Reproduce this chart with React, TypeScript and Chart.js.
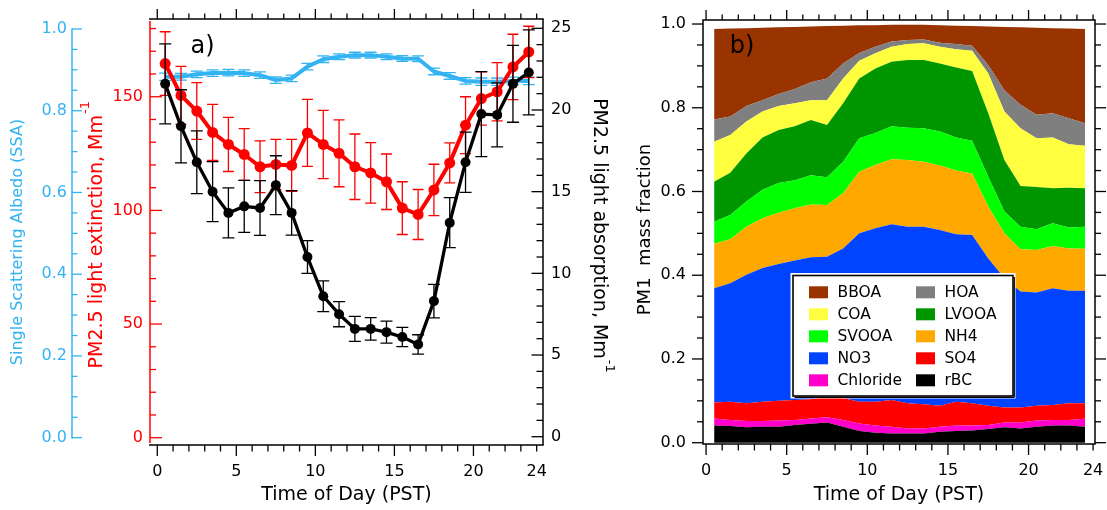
import React, { useEffect, useRef } from "react";
import { Chart, registerables } from "chart.js";

Chart.register(...registerables);

const FONT = "'DejaVu Sans', Verdana, sans-serif";
const SKY = "#33B3F2";
const RED = "#FF0000";

// ---------- shared categories / ticks ----------
const hours = [0.5, 1.5, 2.5, 3.5, 4.5, 5.5, 6.5, 7.5, 8.5, 9.5, 10.5, 11.5, 12.5, 13.5, 14.5, 15.5, 16.5, 17.5, 18.5, 19.5, 20.5, 21.5, 22.5, 23.5];
const timeTicks = [0, 5, 10, 15, 20, 24];
const ssaTicks = [0, 0.2, 0.4, 0.6, 0.8, 1.0];
const extTicks = [0, 50, 100, 150];
const absTicks = [0, 5, 10, 15, 20, 25];
const fracTicks = [0, 0.2, 0.4, 0.6, 0.8, 1.0];

// ---------- panel a) ----------
const extinction = [164.6, 150.6, 143.7, 134.3, 129.0, 124.6, 119.2, 120.2, 119.8, 134.1, 129.0, 125.1, 119.2, 116.5, 112.6, 101.0, 98.2, 109.0, 120.9, 137.5, 149.2, 152.2, 163.1, 169.7];
const extinctionErr = [14.0, 12.8, 12.5, 12.3, 11.9, 11.4, 11.4, 11.0, 11.4, 14.7, 15.0, 14.7, 14.4, 13.3, 12.2, 11.6, 11.0, 11.3, 8.8, 12.5, 11.7, 12.8, 14.4, 11.3];
const absorption = [21.6, 19.0, 16.8, 15.0, 13.7, 14.1, 14.0, 15.4, 13.7, 11.0, 8.6, 7.5, 6.6, 6.6, 6.4, 6.1, 5.65, 8.3, 13.1, 16.8, 19.75, 19.7, 21.6, 22.3];
const absorptionErr = [2.45, 2.24, 1.92, 1.84, 1.53, 1.59, 1.67, 1.8, 1.36, 1.0, 0.94, 0.77, 0.77, 0.69, 0.67, 0.59, 0.59, 1.02, 1.53, 1.84, 2.6, 1.96, 2.35, 2.6];
const ssa = [0.883, 0.883, 0.889, 0.892, 0.893, 0.892, 0.887, 0.875, 0.879, 0.908, 0.926, 0.932, 0.936, 0.936, 0.932, 0.928, 0.927, 0.896, 0.885, 0.873, 0.871, 0.871, 0.873, 0.873];
const ssaErr = [0.009, 0.008, 0.008, 0.008, 0.008, 0.008, 0.008, 0.008, 0.008, 0.008, 0.008, 0.007, 0.007, 0.007, 0.007, 0.007, 0.007, 0.008, 0.008, 0.008, 0.009, 0.009, 0.009, 0.009];

// ---------- panel b) mass fractions ----------
const rBC = [0.041, 0.040, 0.037, 0.038, 0.038, 0.042, 0.045, 0.048, 0.038, 0.028, 0.024, 0.022, 0.022, 0.022, 0.026, 0.028, 0.029, 0.033, 0.037, 0.034, 0.038, 0.041, 0.041, 0.038];
const chloride = [0.017, 0.014, 0.015, 0.014, 0.015, 0.012, 0.013, 0.013, 0.016, 0.018, 0.017, 0.016, 0.012, 0.012, 0.012, 0.013, 0.012, 0.009, 0.011, 0.014, 0.015, 0.013, 0.013, 0.019];
const so4 = [0.038, 0.044, 0.042, 0.046, 0.047, 0.048, 0.046, 0.049, 0.053, 0.052, 0.057, 0.064, 0.060, 0.058, 0.050, 0.057, 0.053, 0.046, 0.036, 0.036, 0.035, 0.036, 0.040, 0.037];
const no3 = [0.273, 0.283, 0.307, 0.319, 0.327, 0.333, 0.339, 0.334, 0.357, 0.402, 0.414, 0.420, 0.422, 0.424, 0.420, 0.400, 0.402, 0.352, 0.309, 0.277, 0.271, 0.279, 0.269, 0.269];
const nh4 = [0.106, 0.105, 0.115, 0.119, 0.122, 0.125, 0.126, 0.124, 0.132, 0.147, 0.151, 0.155, 0.159, 0.155, 0.154, 0.152, 0.147, 0.124, 0.107, 0.101, 0.101, 0.101, 0.101, 0.100];
const svooa = [0.053, 0.058, 0.060, 0.068, 0.071, 0.067, 0.070, 0.066, 0.075, 0.080, 0.077, 0.079, 0.077, 0.080, 0.081, 0.079, 0.078, 0.071, 0.052, 0.054, 0.050, 0.054, 0.050, 0.053];
const lvooa = [0.095, 0.101, 0.115, 0.125, 0.127, 0.129, 0.132, 0.125, 0.140, 0.143, 0.154, 0.154, 0.162, 0.163, 0.163, 0.167, 0.167, 0.152, 0.123, 0.097, 0.101, 0.084, 0.095, 0.092];
const coa = [0.096, 0.090, 0.076, 0.062, 0.057, 0.055, 0.047, 0.059, 0.059, 0.042, 0.036, 0.036, 0.038, 0.040, 0.040, 0.044, 0.048, 0.095, 0.116, 0.138, 0.116, 0.121, 0.104, 0.101];
const hoa = [0.053, 0.044, 0.037, 0.027, 0.029, 0.034, 0.043, 0.052, 0.036, 0.019, 0.016, 0.012, 0.010, 0.009, 0.009, 0.012, 0.012, 0.020, 0.051, 0.056, 0.056, 0.058, 0.062, 0.054];
const bboa = [0.216, 0.210, 0.186, 0.173, 0.159, 0.148, 0.133, 0.125, 0.090, 0.066, 0.051, 0.040, 0.036, 0.035, 0.042, 0.044, 0.047, 0.092, 0.151, 0.185, 0.208, 0.203, 0.214, 0.225];

// stacking order bottom -> top
const speciesTable = [
  { label: "rBC", values: rBC, color: "#000000" },
  { label: "Chloride", values: chloride, color: "#FF00CC" },
  { label: "SO4", values: so4, color: "#FF0000" },
  { label: "NO3", values: no3, color: "#0044FF" },
  { label: "NH4", values: nh4, color: "#FFA800" },
  { label: "SVOOA", values: svooa, color: "#00FF00" },
  { label: "LVOOA", values: lvooa, color: "#009600" },
  { label: "COA", values: coa, color: "#FFFF40" },
  { label: "HOA", values: hoa, color: "#7F7F7F" },
  { label: "BBOA", values: bboa, color: "#993300" },
];

// ---------- helpers ----------
const setTicks = (vals: number[]) => (axis: any) => {
  axis.ticks = vals.map((v) => ({ value: v }));
};
const zeroPad = (s: any) => {
  s.paddingTop = 0;
  s.paddingBottom = 0;
  s.paddingLeft = 0;
  s.paddingRight = 0;
};
const fitWidth = (w: number) => (s: any) => {
  s.width = w;
  zeroPad(s);
};
const fitHeight = (h: number) => (s: any) => {
  s.height = h;
  zeroPad(s);
};
const noGrid = { display: false, drawTicks: false };
const noBorder = { display: false };
const tickFont = { family: FONT, size: 16 };

function strokeLine(ctx: CanvasRenderingContext2D, x1: number, y1: number, x2: number, y2: number) {
  ctx.beginPath();
  ctx.moveTo(x1, y1);
  ctx.lineTo(x2, y2);
  ctx.stroke();
}

function vTicks(ctx: CanvasRenderingContext2D, scale: any, xEdge: number, dir: number, from: number, to: number, step: number, majorEvery: number, majorLen: number, minorLen: number) {
  const n = Math.round((to - from) / step);
  for (let i = 0; i <= n; i++) {
    const v = from + i * step;
    const q = v / majorEvery;
    const major = Math.abs(q - Math.round(q)) < 1e-6;
    const y = scale.getPixelForValue(v);
    strokeLine(ctx, xEdge, y, xEdge + dir * (major ? majorLen : minorLen), y);
  }
}

function hTicks(ctx: CanvasRenderingContext2D, scale: any, yEdge: number, dir: number, from: number, to: number, step: number, majorEvery: number, majorLen: number, minorLen: number) {
  const n = Math.round((to - from) / step);
  for (let i = 0; i <= n; i++) {
    const v = from + i * step;
    const q = v / majorEvery;
    const major = Math.abs(q - Math.round(q)) < 1e-6;
    const x = scale.getPixelForValue(v);
    strokeLine(ctx, x, yEdge, x, yEdge + dir * (major ? majorLen : minorLen));
  }
}

function rotatedTitle(ctx: CanvasRenderingContext2D, text: string, sup: string | null, x: number, yCenter: number, rot: number, size: number, color: string, supSize = 13, supRise = 12) {
  ctx.save();
  ctx.font = `${size}px ${FONT}`;
  const w = ctx.measureText(text).width;
  ctx.translate(x, yCenter);
  ctx.rotate((rot * Math.PI) / 2);
  ctx.fillStyle = color;
  ctx.textAlign = "left";
  ctx.textBaseline = "alphabetic";
  ctx.fillText(text, -w / 2, 0);
  if (sup) {
    ctx.font = `${supSize}px ${FONT}`;
    ctx.fillText(sup, w / 2 + 1, -supRise);
  }
  ctx.restore();
}

// error bars drawn under each line
const errorBarPlugin = {
  id: "errorBars",
  beforeDatasetDraw(chart: any, args: any) {
    const ds = chart.data.datasets[args.index];
    const errs: number[] | undefined = ds.errorBars;
    if (!errs) return;
    const meta = args.meta;
    const yScale = chart.scales[meta.yAxisID];
    const ctx: CanvasRenderingContext2D = chart.ctx;
    ctx.save();
    ctx.strokeStyle = ds.errorColor;
    ctx.lineWidth = ds.errorWidth;
    const cap = ds.errorCap;
    meta.data.forEach((pt: any, j: number) => {
      const v = ds.data[j];
      const e = errs[j];
      const yt = yScale.getPixelForValue(v + e);
      const yb = yScale.getPixelForValue(v - e);
      ctx.beginPath();
      ctx.moveTo(pt.x, yt);
      ctx.lineTo(pt.x, yb);
      ctx.moveTo(pt.x - cap, yt);
      ctx.lineTo(pt.x + cap, yt);
      ctx.moveTo(pt.x - cap, yb);
      ctx.lineTo(pt.x + cap, yb);
      ctx.stroke();
    });
    ctx.restore();
  },
};

const frameLeft = {
  id: "frameLeft",
  afterDraw(chart: any) {
    const ctx: CanvasRenderingContext2D = chart.ctx;
    const a = chart.chartArea;
    const { x, ySSA, yExt, yAbs } = chart.scales;
    ctx.save();
    ctx.lineCap = "butt";
    // SSA axis
    ctx.strokeStyle = SKY;
    ctx.lineWidth = 1.5;
    const sx = ySSA.right;
    strokeLine(ctx, sx, ySSA.getPixelForValue(0) + 0.7, sx, ySSA.getPixelForValue(1) - 0.7);
    ctx.lineWidth = 1.3;
    vTicks(ctx, ySSA, sx, 1, 0, 1, 0.05, 0.2, 10, 5.5);
    // extinction axis
    ctx.strokeStyle = RED;
    ctx.lineWidth = 1.5;
    strokeLine(ctx, a.left, a.top + 2, a.left, a.bottom - 2);
    ctx.lineWidth = 1.3;
    vTicks(ctx, yExt, a.left, 1, 0, 180, 10, 50, 12, 6);
    // black frame
    ctx.strokeStyle = "#000";
    ctx.lineWidth = 1.5;
    strokeLine(ctx, a.left - 1, a.top, a.right + 0.75, a.top);
    strokeLine(ctx, a.left - 1, a.bottom, a.right + 0.75, a.bottom);
    strokeLine(ctx, a.right, a.top, a.right, a.bottom);
    ctx.lineWidth = 1.3;
    vTicks(ctx, yAbs, a.right, -1, 0, 25, 1, 5, 11.5, 6.5);
    hTicks(ctx, x, a.bottom, 1, 0, 24, 1, 5, 11, 6.5);
    hTicks(ctx, x, a.top, -1, 0, 24, 1, 5, 10, 5.5);
    // panel label
    ctx.fillStyle = "#000";
    ctx.font = `24px ${FONT}`;
    ctx.textAlign = "left";
    ctx.textBaseline = "alphabetic";
    ctx.fillText("a)", 190.5, 52.5);
    // axis titles
    rotatedTitle(ctx, "Single Scattering Albedo (SSA)", null, 22, 242, -1, 16, SKY);
    rotatedTitle(ctx, "PM2.5 light extinction, Mm", "-1", 102, 241.7, -1, 19, RED, 13, 13);
    rotatedTitle(ctx, "PM2.5 light absorption, Mm", "-1", 594.4, 228.5, 1, 19, "#000", 13, 12);
    ctx.restore();
  },
};

const frameRight = {
  id: "frameRight",
  afterDraw(chart: any) {
    const ctx: CanvasRenderingContext2D = chart.ctx;
    const a = chart.chartArea;
    const { x, y } = chart.scales;
    ctx.save();
    ctx.lineCap = "butt";
    ctx.strokeStyle = "#000";
    ctx.lineWidth = 1.5;
    ctx.strokeRect(a.left, a.top, a.right - a.left, a.bottom - a.top);
    ctx.lineWidth = 1.3;
    vTicks(ctx, y, a.left, -1, 0, 1, 0.05, 0.2, 11, 6);
    vTicks(ctx, y, a.right, 1, 0, 1, 0.05, 0.2, 11, 6);
    hTicks(ctx, x, a.bottom, 1, 0, 24, 1, 5, 11, 6.5);
    hTicks(ctx, x, a.top, -1, 0, 24, 1, 5, 10, 5.5);

    // panel label
    ctx.fillStyle = "#000";
    ctx.font = `24px ${FONT}`;
    ctx.textAlign = "left";
    ctx.textBaseline = "alphabetic";
    ctx.fillText("b)", 109.7, 53);

    rotatedTitle(ctx, "PM1  mass fraction", null, 30, 229.5, -1, 18, "#000");

    // legend (2 columns, top layer first)
    const bx = a.left + 90;
    const by = a.top + 255.5;
    const bw = 220;
    const bh = 120.5;
    ctx.fillStyle = "#fff";
    ctx.fillRect(bx - 2.5, by - 2.5, bw + 5, bh + 5);
    ctx.strokeStyle = "#000";
    ctx.lineWidth = 1.6;
    ctx.strokeRect(bx, by, bw, bh);
    ctx.lineWidth = 1.2;
    strokeLine(ctx, bx + 1.5, by + bh + 1.3, bx + bw + 1.3, by + bh + 1.3);
    strokeLine(ctx, bx + bw + 1.3, by + 1.5, bx + bw + 1.3, by + bh + 1.3);

    const items = chart.data.datasets.map((d: any) => ({ label: d.label, color: d.backgroundColor })).reverse();
    ctx.font = `15.5px ${FONT}`;
    ctx.textBaseline = "middle";
    ctx.textAlign = "left";
    items.forEach((it: any, k: number) => {
      const col = k % 2;
      const row = Math.floor(k / 2);
      const sx = bx + 16 + col * 107;
      const cy = by + 16.8 + row * 22;
      ctx.fillStyle = it.color;
      ctx.fillRect(sx, cy - 6, 19, 12);
      ctx.fillStyle = "#000";
      ctx.fillText(it.label, sx + 28.5, cy + 0.5);
    });
    ctx.restore();
  },
};

function leftConfig(): any {
  return {
    type: "line",
    data: {
      labels: hours,
      datasets: [
        {
          label: "PM2.5 light absorption",
          data: absorption,
          yAxisID: "yAbs",
          borderColor: "#000",
          backgroundColor: "#000",
          pointBackgroundColor: "#000",
          pointBorderColor: "#000",
          borderWidth: 3.3,
          pointRadius: 5,
          pointBorderWidth: 0,
          borderJoinStyle: "round",
          fill: false,
          order: 1,
          errorBars: absorptionErr,
          errorColor: "#000",
          errorWidth: 1.3,
          errorCap: 6,
        },
        {
          label: "PM2.5 light extinction",
          data: extinction,
          yAxisID: "yExt",
          borderColor: RED,
          backgroundColor: RED,
          pointBackgroundColor: RED,
          pointBorderColor: RED,
          borderWidth: 4,
          pointRadius: 5.5,
          pointBorderWidth: 0,
          borderJoinStyle: "round",
          fill: false,
          order: 2,
          errorBars: extinctionErr,
          errorColor: RED,
          errorWidth: 1.3,
          errorCap: 5.5,
        },
        {
          label: "Single Scattering Albedo",
          data: ssa,
          yAxisID: "ySSA",
          borderColor: SKY,
          backgroundColor: SKY,
          borderWidth: 4,
          pointRadius: 0,
          borderJoinStyle: "round",
          fill: false,
          order: 3,
          errorBars: ssaErr,
          errorColor: SKY,
          errorWidth: 1.3,
          errorCap: 6,
        },
      ],
    },
    options: {
      responsive: false,
      animation: false,
      devicePixelRatio: 1,
      events: [],
      layout: { padding: { top: 19, left: 0, right: 0, bottom: 0 } },
      plugins: { legend: { display: false }, tooltip: { enabled: false } },
      scales: {
        x: {
          type: "linear",
          position: "bottom",
          min: -0.46,
          max: 24.4,
          afterBuildTicks: setTicks(timeTicks),
          afterFit: fitHeight(65),
          grid: noGrid,
          border: noBorder,
          ticks: { autoSkip: false, maxRotation: 0, padding: 17, color: "#000", font: tickFont, callback: (v: any) => String(v) },
          title: { display: true, text: "Time of Day (PST)", color: "#000", font: { family: FONT, size: 19 }, padding: { top: 0, bottom: 4 } },
        },
        ySSA: {
          type: "linear",
          position: "left",
          weight: 10,
          min: -0.0179,
          max: 1.0244,
          afterBuildTicks: setTicks(ssaTicks),
          afterFit: fitWidth(72),
          grid: noGrid,
          border: noBorder,
          ticks: { padding: 5, color: SKY, font: tickFont, callback: (v: any) => Number(v).toFixed(1) },
        },
        yExt: {
          type: "linear",
          position: "left",
          weight: 0,
          min: -3.21,
          max: 184.2,
          afterBuildTicks: setTicks(extTicks),
          afterFit: fitWidth(78),
          grid: noGrid,
          border: noBorder,
          ticks: { padding: 7, color: RED, font: tickFont, callback: (v: any) => String(v) },
        },
        yAbs: {
          type: "linear",
          position: "right",
          min: -0.508,
          max: 25.57,
          afterBuildTicks: setTicks(absTicks),
          afterFit: fitWidth(77),
          grid: noGrid,
          border: noBorder,
          ticks: { padding: 8, color: "#000", font: tickFont, callback: (v: any) => String(v) },
        },
      },
    },
    plugins: [errorBarPlugin, frameLeft],
  };
}

function rightConfig(): any {
  return {
    type: "line",
    data: {
      labels: hours,
      datasets: speciesTable.map((s, i) => ({
        label: s.label,
        data: s.values,
        backgroundColor: s.color,
        borderColor: "rgba(0,0,0,0)",
        borderWidth: 0,
        pointRadius: 0,
        fill: i === 0 ? "origin" : "-1",
      })),
    },
    options: {
      responsive: false,
      animation: false,
      devicePixelRatio: 1,
      events: [],
      layout: { padding: { top: 20, left: 0, right: 12, bottom: 0 } },
      plugins: { legend: { display: false }, tooltip: { enabled: false } },
      scales: {
        x: {
          type: "linear",
          position: "bottom",
          min: -0.19,
          max: 24.12,
          afterBuildTicks: setTicks(timeTicks),
          afterFit: fitHeight(66),
          grid: noGrid,
          border: noBorder,
          ticks: { autoSkip: false, maxRotation: 0, padding: 17, color: "#000", font: tickFont, callback: (v: any) => String(v) },
          title: { display: true, text: "Time of Day (PST)", color: "#000", font: { family: FONT, size: 19 }, padding: { top: 0, bottom: 4 } },
        },
        y: {
          type: "linear",
          position: "left",
          stacked: true,
          min: -0.0031,
          max: 1.0096,
          afterBuildTicks: setTicks(fracTicks),
          afterFit: fitWidth(83),
          grid: noGrid,
          border: noBorder,
          ticks: { padding: 17, color: "#000", font: tickFont, callback: (v: any) => Number(v).toFixed(1) },
        },
      },
    },
    plugins: [frameRight],
  };
}

export default function App() {
  const leftRef = useRef<HTMLCanvasElement>(null);
  const rightRef = useRef<HTMLCanvasElement>(null);

  useEffect(() => {
    const c1 = new Chart(leftRef.current as HTMLCanvasElement, leftConfig());
    const c2 = new Chart(rightRef.current as HTMLCanvasElement, rightConfig());
    return () => {
      c1.destroy();
      c2.destroy();
    };
  }, []);

  return (
    <div style={{ position: "absolute", left: 0, top: 0, width: 1107, height: 510, background: "#fff" }}>
      <canvas ref={leftRef} width={620} height={510} style={{ position: "absolute", left: 0, top: 0, width: 620, height: 510 }} />
      <canvas ref={rightRef} width={487} height={510} style={{ position: "absolute", left: 620, top: 0, width: 487, height: 510 }} />
    </div>
  );
}
